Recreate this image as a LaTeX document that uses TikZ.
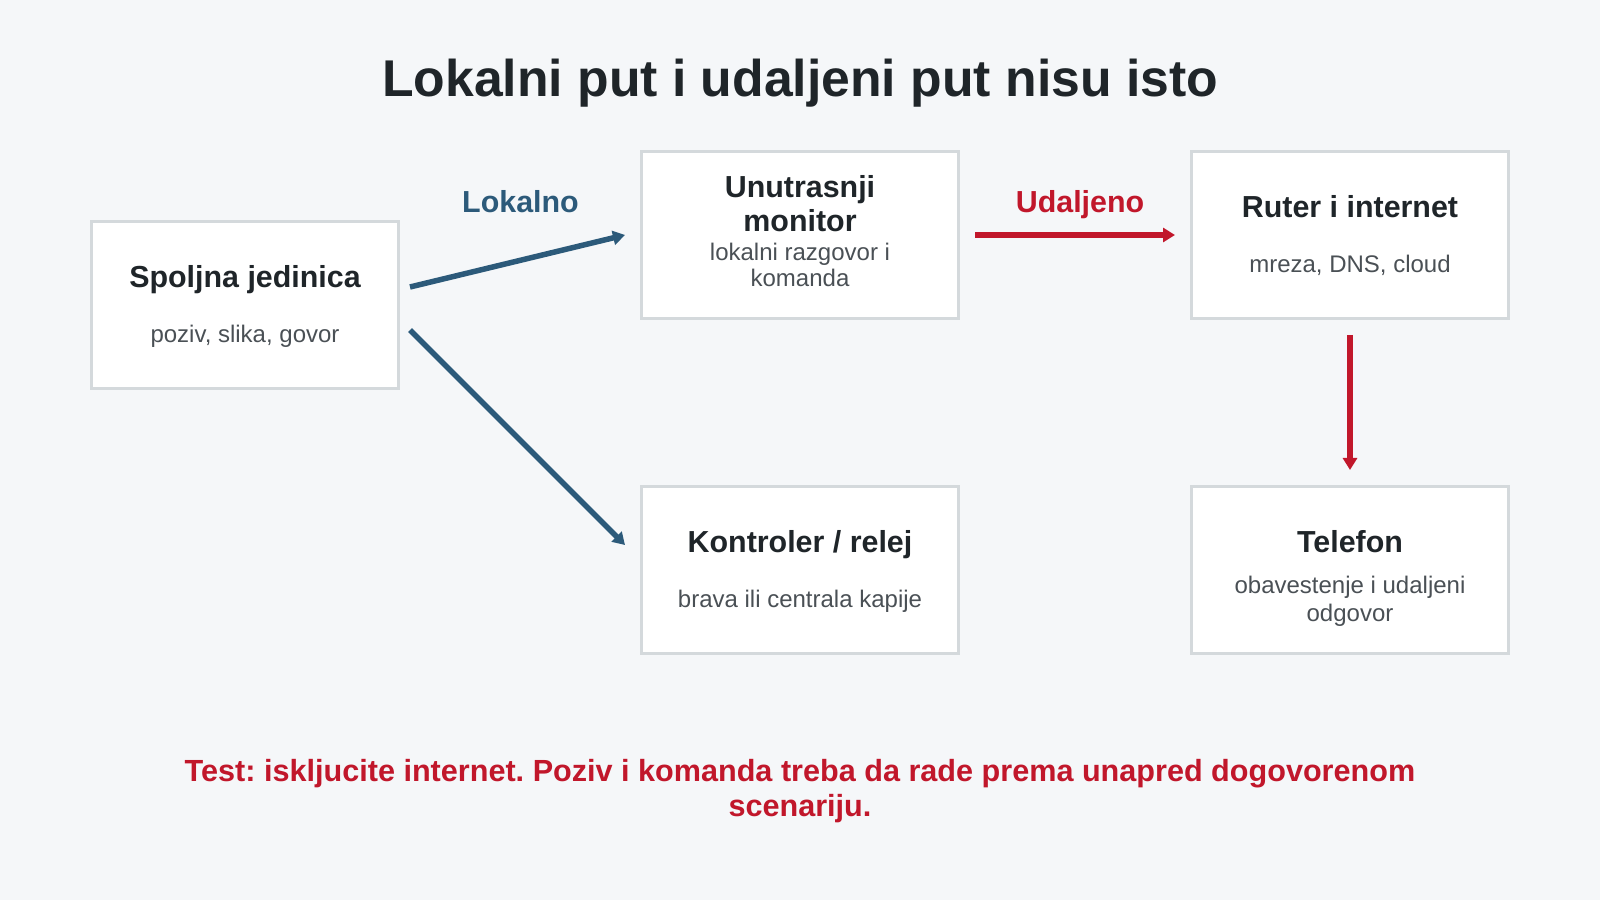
\documentclass[tikz,border=0pt]{standalone}
\usepackage{fontspec}
\setmainfont{Liberation Sans}
\usepackage{tikz}
\usetikzlibrary{arrows.meta,positioning}
\usepackage{xcolor}
\frenchspacing
\definecolor{dlbg}{RGB}{245,247,249}
\definecolor{dlborder}{RGB}{212,217,220}
\definecolor{dlblue}{RGB}{44,90,122}
\definecolor{dlred}{RGB}{193,23,43}
\definecolor{dltext}{RGB}{31,37,41}
\definecolor{dlgray}{RGB}{74,80,85}
\tikzstyle{localarrow} = [line width=5.5pt,->,>={Triangle[length=12pt,width=14pt]},color=dlblue]
\tikzstyle{remotearrow} = [line width=5.5pt,->,>={Triangle[length=12pt,width=14pt]},color=dlred,shorten <=15pt,shorten >=15pt]
\tikzstyle{unit} = [rectangle, minimum width=317pt, minimum height=167pt, inner sep=0pt, draw=dlborder, fill=white, line width=3pt]
\tikzstyle{head} = [anchor=base, inner sep=0pt, text=dltext, font=\bfseries\fontsize{30.4}{36}\selectfont]
\tikzstyle{sub} = [anchor=base, inner sep=0pt, text=dlgray, font=\fontsize{24}{28}\selectfont]
\tikzstyle{pathlabel} = [anchor=base, inner sep=0pt, font=\bfseries\fontsize{30.4}{36}\selectfont]
\tikzstyle{note} = [anchor=base, inner sep=0pt, text=dlred, font=\bfseries\fontsize{30.6}{36}\selectfont]

\begin{document}
\begin{tikzpicture}[x=1pt,y=1pt,node distance=550pt]
\fill[dlbg] (0,0) rectangle (1600,900);
\useasboundingbox (0,0) rectangle (1600,900);

% Title
\node (title) [anchor=base, text=dltext, font=\bfseries\fontsize{51.7}{60}\selectfont] at (800,803) {Lokalni put i udaljeni put nisu isto};

% Units
\node (outdoor) [unit, minimum width=307pt] at (245,595) {};
\node (monitor) [unit, right of=outdoor, xshift=5pt, yshift=70pt] {};
\node (router) [unit, right of=monitor] {};
\node (relay) [unit, below of=monitor, yshift=215pt] {};
\node (phone) [unit, below of=router, yshift=215pt] {};

% Unit texts
\node (outdoorHead) [head] at ([yshift=17pt]outdoor.center) {Spoljna jedinica};
\node (outdoorSub) [sub] at ([yshift=-38pt]outdoor.center) {poziv, slika, govor};
\node (monitorHead) [head] at ([yshift=37pt]monitor.center) {Unutrasnji};
\node (monitorHeadB) [head] at ([yshift=3pt]monitor.center) {monitor};
\node (monitorSub) [sub] at ([yshift=-26pt]monitor.center) {lokalni razgovor i};
\node (monitorSubB) [sub] at ([yshift=-52pt]monitor.center) {komanda};
\node (routerHead) [head] at ([yshift=17pt]router.center) {Ruter i internet};
\node (routerSub) [sub] at ([yshift=-38pt]router.center) {mreza, DNS, cloud};
\node (relayHead) [head] at ([yshift=17pt]relay.center) {Kontroler / relej};
\node (relaySub) [sub] at ([yshift=-38pt]relay.center) {brava ili centrala kapije};
\node (phoneHead) [head] at ([yshift=17pt]phone.center) {Telefon};
\node (phoneSub) [sub] at ([yshift=-24pt]phone.center) {obavestenje i udaljeni};
\node (phoneSubB) [sub] at ([yshift=-52pt]phone.center) {odgovor};

% Local paths
\draw[localarrow] ([xshift=10pt,yshift=18pt]outdoor.east) -- node[pathlabel, text=dlblue, xshift=3pt, yshift=48pt] {Lokalno} ([xshift=-15pt]monitor.west);
\draw[localarrow] ([xshift=10pt,yshift=-25pt]outdoor.east) -- ([xshift=-15pt,yshift=25pt]relay.west);

% Remote path
\draw[remotearrow] (monitor) -- node[pathlabel, text=dlred, xshift=5pt, yshift=22pt] {Udaljeno} (router);
\draw[remotearrow] (router) -- (phone);

% Note
\node (note) [note] at (800,119) {Test: iskljucite internet. Poziv i komanda treba da rade prema unapred dogovorenom};
\node (noteB) [note] at (800,84) {scenariju.};
\end{tikzpicture}
\end{document}
